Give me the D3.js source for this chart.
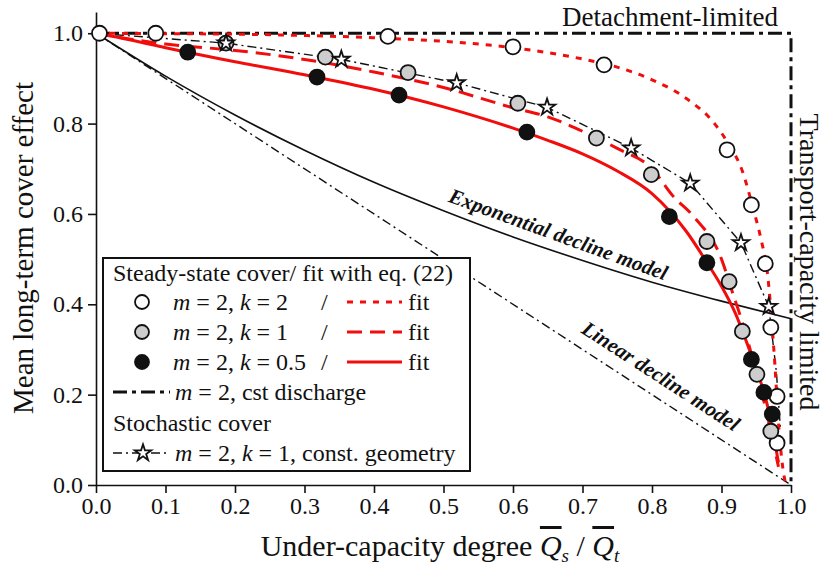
<!DOCTYPE html>
<html><head><meta charset="utf-8">
<script src="https://cdn.jsdelivr.net/npm/d3@7"></script>
<style>
body{margin:0;background:#fff}
svg{display:block}
</style>
</head><body>
<svg id="c" width="824" height="566" font-family="Liberation Serif"></svg>
<script>
// ---------- data ----------
const xMajorTicks=[0,0.1,0.2,0.3,0.4,0.5,0.6,0.7,0.8,0.9,1.0];
const xMinorTicks=[0.05,0.15,0.25,0.35,0.45,0.55,0.65,0.75,0.85,0.95];
const yMajorTicks=[0,0.2,0.4,0.6,0.8,1.0];
const yMinorTicks=[0.1,0.3,0.5,0.7,0.9];

// steady-state cover, m=2, k=2 (open circles)
const k2X=[0.005,0.086,0.42,0.60,0.731,0.908,0.943,0.963,0.971,0.98,0.98];
const k2Y=[1.0,1.0,0.993,0.97,0.93,0.742,0.62,0.49,0.349,0.196,0.093];
// m=2, k=1 (grey circles)
const k1X=[0.187,0.33,0.449,0.607,0.72,0.799,0.879,0.911,0.93,0.951,0.971];
const k1Y=[0.978,0.947,0.913,0.845,0.768,0.687,0.539,0.45,0.34,0.245,0.119];
// m=2, k=0.5 (black circles)
const k05X=[0.132,0.318,0.436,0.62,0.825,0.879,0.943,0.961,0.973];
const k05Y=[0.958,0.903,0.863,0.781,0.594,0.492,0.278,0.205,0.157];
// stochastic cover, const. geometry (stars)
const starX=[0.187,0.353,0.519,0.649,0.77,0.855,0.928,0.968];
const starY=[0.978,0.942,0.89,0.836,0.746,0.668,0.536,0.395];
const starLineX=[0.0,0.187,0.353,0.519,0.649,0.77,0.855,0.928,0.968,0.979,0.985];
const starLineY=[1.0,0.978,0.942,0.89,0.836,0.746,0.668,0.536,0.395,0.25,0.12];

// fits with eq. (22)
const fitK2X=[0,0.1,0.2,0.3,0.4,0.5,0.6,0.65,0.7,0.75,0.8,0.85,0.89,0.91,0.93,0.945,0.957,0.966,0.976,0.983,0.99,0.993];
const fitK2Y=[1,0.999,0.998,0.995,0.99,0.982,0.968,0.957,0.943,0.925,0.897,0.855,0.8,0.755,0.695,0.615,0.543,0.47,0.285,0.117,0.02,0];
const fitK1X=[0,0.05,0.1,0.2,0.3,0.4,0.5,0.6,0.65,0.7,0.75,0.8,0.83,0.86,0.9,0.915,0.93,0.95,0.965,0.975,0.982];
const fitK1Y=[1,0.987,0.976,0.962,0.942,0.914,0.88,0.835,0.815,0.783,0.745,0.7,0.64,0.594,0.5,0.43,0.36,0.25,0.16,0.09,0.04];
const fitK05X=[0,0.05,0.1,0.2,0.3,0.4,0.5,0.6,0.65,0.7,0.75,0.8,0.85,0.88,0.9,0.92,0.94,0.955,0.967,0.976,0.982];
const fitK05Y=[1,0.985,0.968,0.937,0.908,0.876,0.837,0.79,0.763,0.733,0.695,0.645,0.56,0.49,0.44,0.38,0.3,0.235,0.17,0.1,0.05];

// models
const expX=[0,0.1,0.2,0.3,0.4,0.5,0.6,0.7,0.8,0.9,1.0];
const expY=[1,0.905,0.819,0.741,0.670,0.607,0.549,0.497,0.449,0.407,0.368];
const linX=[0,1.0];
const linY=[1,0];
const cstX=[0,1,1];
const cstY=[1,1,0];

// ---------- chart ----------
const FONT="'Liberation Serif', 'DejaVu Serif', serif";
const svg=d3.select("#c");
const x=d3.scaleLinear().domain([0,1]).range([96,791]);
const y=d3.scaleLinear().domain([0,1.047]).range([485,12]);
const zip=(a,b)=>a.map((v,i)=>[v,b[i]]);
const red="#f20d0d";

// axes
const gx=svg.append("g").attr("transform","translate(0,485)");
gx.call(d3.axisBottom(x).tickValues(xMinorTicks).tickSize(5).tickSizeOuter(0).tickFormat(""));
gx.call(d3.axisBottom(x).tickValues(xMajorTicks).tickSize(8).tickSizeOuter(0).tickPadding(4).tickFormat(d3.format(".1f")));
const gy=svg.append("g").attr("transform","translate(96,0)");
gy.call(d3.axisLeft(y).tickValues(yMinorTicks).tickSize(5).tickSizeOuter(0).tickFormat(""));
gy.call(d3.axisLeft(y).tickValues(yMajorTicks).tickSize(8).tickSizeOuter(0).tickPadding(5).tickFormat(d3.format(".1f")));
gx.attr("font-family",FONT); gy.attr("font-family",FONT);
svg.selectAll(".domain").attr("stroke","#111").attr("stroke-width",1.6);
svg.selectAll(".tick line").attr("stroke","#111").attr("stroke-width",1.6);
svg.selectAll(".tick text").attr("font-size",24).attr("fill","#111");

const lineLin=d3.line().x(d=>x(d[0])).y(d=>y(d[1]));
const lineSmooth=d3.line().x(d=>x(d[0])).y(d=>y(d[1])).curve(d3.curveMonotoneX);

// model lines
svg.append("path").attr("d",lineSmooth(zip(expX,expY))).attr("fill","none").attr("stroke","#111").attr("stroke-width",1.6);
svg.append("path").attr("d",lineLin(zip(linX,linY))).attr("fill","none").attr("stroke","#111").attr("stroke-width",1.4).attr("stroke-dasharray","9,4,2,4");
svg.append("path").attr("d",lineLin(zip(cstX,cstY))).attr("fill","none").attr("stroke","#111").attr("stroke-width",3).attr("stroke-dasharray","14,5,4,5");
// stochastic line
svg.append("path").attr("d",lineLin(zip(starLineX,starLineY))).attr("fill","none").attr("stroke","#111").attr("stroke-width",1.4).attr("stroke-dasharray","9,4,2,4");

// fits
svg.append("path").attr("d",lineSmooth(zip(fitK2X,fitK2Y))).attr("fill","none").attr("stroke",red).attr("stroke-width",3).attr("stroke-dasharray","6,7");
svg.append("path").attr("d",lineSmooth(zip(fitK1X,fitK1Y))).attr("fill","none").attr("stroke",red).attr("stroke-width",3).attr("stroke-dasharray","15,8");
svg.append("path").attr("d",lineSmooth(zip(fitK05X,fitK05Y))).attr("fill","none").attr("stroke",red).attr("stroke-width",3);

// markers
function circles(xs,ys,fill){
  svg.append("g").selectAll("circle").data(zip(xs,ys)).join("circle")
    .attr("cx",d=>x(d[0])).attr("cy",d=>y(d[1])).attr("r",7.5)
    .attr("fill",fill).attr("stroke","#111").attr("stroke-width",1.8);
}
circles(k2X,k2Y,"#fff");
circles(k1X,k1Y,"#cdcdcd");
circles(k05X,k05Y,"#111");
const star=d3.symbol().type(d3.symbolStar).size(85);
svg.append("g").selectAll("path").data(zip(starX,starY)).join("path")
  .attr("d",star).attr("transform",d=>`translate(${x(d[0])},${y(d[1])})`)
  .attr("fill","#fff").attr("stroke","#111").attr("stroke-width",1.8);

// curve labels
svg.append("text").attr("transform","translate(556,241) rotate(20)").attr("text-anchor","middle")
  .attr("font-size",21).attr("font-style","italic").attr("font-weight","bold").text("Exponential decline model");
svg.append("text").attr("transform","translate(657,382) rotate(33)").attr("text-anchor","middle")
  .attr("font-size",21).attr("font-style","italic").attr("font-weight","bold").text("Linear decline model");

// regime labels
svg.append("text").attr("x",670).attr("y",26).attr("text-anchor","middle").attr("font-size",27).text("Detachment-limited");
svg.append("text").attr("transform","translate(800,262) rotate(90)").attr("text-anchor","middle").attr("font-size",28).text("Transport-capacity limited");

// axis titles
svg.append("text").attr("transform","translate(33,248) rotate(-90)").attr("text-anchor","middle").attr("font-size",29).text("Mean long-term cover effect");
const xt=svg.append("text").attr("x",440).attr("y",556).attr("text-anchor","middle").attr("font-size",30);
xt.append("tspan").text("Under-capacity degree ");
xt.append("tspan").attr("font-style","italic").style("text-decoration","overline").text("Q");
xt.append("tspan").attr("font-style","italic").attr("font-size",19).attr("dy",6).text("s");
xt.append("tspan").attr("dy",-6).text(" / ");
xt.append("tspan").attr("font-style","italic").style("text-decoration","overline").text("Q");
xt.append("tspan").attr("font-style","italic").attr("font-size",19).attr("dy",6).text("t");

// legend
const lg=svg.append("g");
lg.append("rect").attr("x",103).attr("y",258).attr("width",367).attr("height",213).attr("fill","#fff").attr("stroke","#111").attr("stroke-width",2);
const fs=24;
function lt(xp,yc,parts){
  const t=lg.append("text").attr("x",xp).attr("y",yc+8).attr("font-size",fs);
  parts.forEach(p=>{const s=t.append("tspan").text(p[0]); if(p[1]) s.attr("font-style","italic");});
  return t;
}
lt(113,273,[["Steady-state cover/ fit with eq. (22)"]]);
const rows=[
  {yc:302,fill:"#fff",k:"2",dash:"6,7"},
  {yc:332,fill:"#cdcdcd",k:"1",dash:"15,8"},
  {yc:362,fill:"#111",k:"0.5",dash:null}
];
rows.forEach(r=>{
  lg.append("circle").attr("cx",142).attr("cy",r.yc).attr("r",7).attr("fill",r.fill).attr("stroke","#111").attr("stroke-width",1.8);
  lt(173,r.yc,[["m",1],[" = 2, "],["k",1],[" = "+r.k]]);
  lt(321,r.yc,[["/"]]);
  const l=lg.append("line").attr("x1",347).attr("x2",402).attr("y1",r.yc).attr("y2",r.yc).attr("stroke",red).attr("stroke-width",3);
  if(r.dash) l.attr("stroke-dasharray",r.dash);
  lt(408,r.yc,[["fit"]]);
});
lg.append("line").attr("x1",113).attr("x2",170).attr("y1",392).attr("y2",392).attr("stroke","#111").attr("stroke-width",3).attr("stroke-dasharray","14,5,4,5");
lt(175,392,[["m",1],[" = 2, cst discharge"]]);
lt(113,423,[["Stochastic cover"]]);
lg.append("line").attr("x1",113).attr("x2",170).attr("y1",453).attr("y2",453).attr("stroke","#111").attr("stroke-width",1.4).attr("stroke-dasharray","9,4,2,4");
lg.append("path").attr("d",star).attr("transform","translate(143,453)").attr("fill","#fff").attr("stroke","#111").attr("stroke-width",1.8);
lt(175,453,[["m",1],[" = 2, "],["k",1],[" = 1, const. geometry"]]);

svg.selectAll("text").style("font-family",FONT).attr("fill","#111");
</script>
</body></html>
